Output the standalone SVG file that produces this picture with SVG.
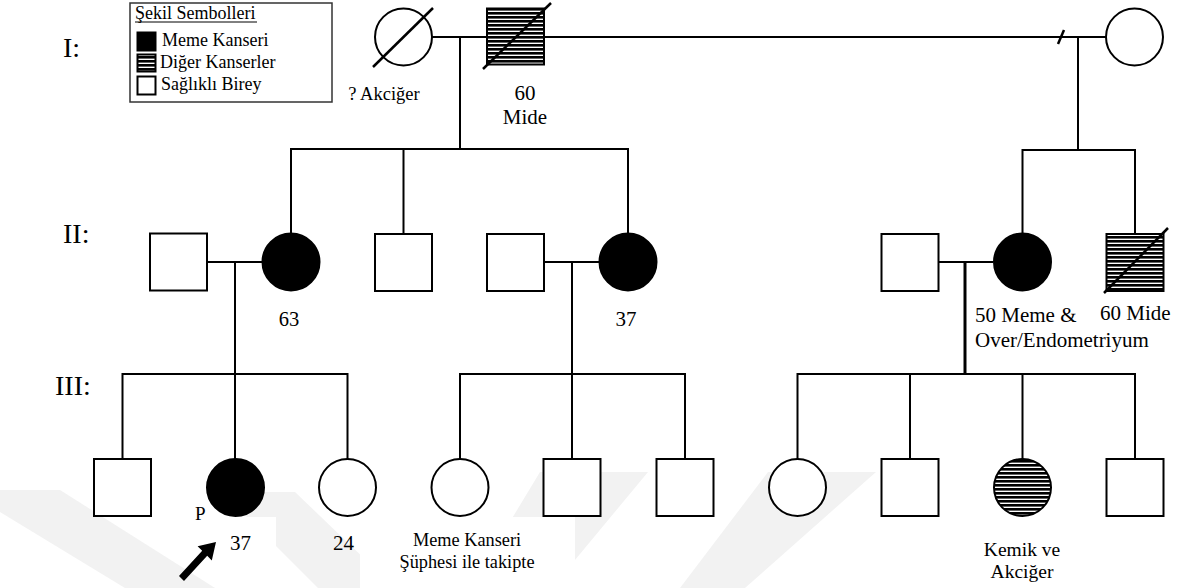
<svg xmlns="http://www.w3.org/2000/svg" width="1184" height="588" viewBox="0 0 1184 588">
<style>
.s{fill:#fff;stroke:#000;stroke-width:2}
.a{fill:#000;stroke:#000;stroke-width:2}
.h{fill:url(#hatch);stroke:#000;stroke-width:2}
.ln{stroke:#000;stroke-width:2;fill:none}
.t{font-family:"Liberation Serif","Times New Roman",serif;fill:#000}
.wm{fill:#f2f2f2}
</style>
<defs>
<pattern id="hatch" patternUnits="userSpaceOnUse" width="8" height="4">
<rect width="8" height="4" fill="#fff"/>
<rect width="8" height="2.6" fill="#000"/>
</pattern>
</defs>
<rect width="1184" height="588" fill="#fff"/>
<g id="watermark">
<polygon class="wm" points="0,490 60,490 215,588 125,588 0,512"/>
<polygon class="wm" points="222,492 295,492 395,588 318,588"/>
<polygon class="wm" points="540,472 648,472 575,560 560,588 470,588"/>
<polygon class="wm" points="768,472 876,472 745,588 680,588"/>
<rect x="176" y="490" width="31" height="30" fill="#fff"/>
<rect x="207" y="517" width="69" height="45" fill="#fff"/>
<rect x="360" y="517" width="215" height="71" fill="#fff"/>
</g>
<g id="legend">
<rect x="130" y="3" width="202" height="99" fill="#fff" stroke="#333" stroke-width="1.5"/>
<text class="t" x="135" y="19" font-size="18">Şekil Sembolleri</text>
<line x1="135" y1="22" x2="257" y2="22" stroke="#000" stroke-width="1"/>
<rect x="137.5" y="32.5" width="18" height="18" class="a"/>
<text class="t" x="162" y="46" font-size="18">Meme Kanseri</text>
<rect x="137.5" y="54.5" width="18" height="17" class="h"/>
<text class="t" x="160" y="68" font-size="18">Diğer Kanserler</text>
<rect x="137.5" y="76.5" width="18" height="18" class="s"/>
<text class="t" x="161" y="90" font-size="18">Sağlıklı Birey</text>
</g>
<g id="generation-labels">
<text class="t" x="63" y="57" font-size="28">I:</text>
<text class="t" x="63" y="243" font-size="28">II:</text>
<text class="t" x="55" y="395" font-size="28">III:</text>
</g>
<g id="connectors">
<line class="ln" x1="432" y1="37" x2="487" y2="37"/>
<line class="ln" x1="544" y1="37" x2="1106" y2="37"/>
<line x1="1058" y1="44" x2="1064" y2="30" stroke="#000" stroke-width="2.5"/>
<line class="ln" x1="460" y1="37" x2="460" y2="149"/>
<polyline class="ln" points="291,233 291,149 628,149 628,233"/>
<line class="ln" x1="403.5" y1="149" x2="403.5" y2="234"/>
<line class="ln" x1="1078" y1="37" x2="1078" y2="150"/>
<polyline class="ln" points="1022.5,233 1022.5,150 1135,150 1135,234"/>
<line class="ln" x1="207" y1="262" x2="262" y2="262"/>
<line class="ln" x1="544" y1="262" x2="599" y2="262"/>
<line class="ln" x1="938" y1="262" x2="993" y2="262"/>
<line class="ln" x1="235" y1="262" x2="235" y2="374"/>
<line class="ln" x1="572" y1="262" x2="572" y2="374"/>
<line x1="965" y1="262" x2="965" y2="374" stroke="#000" stroke-width="3"/>
<polyline class="ln" points="122.5,459 122.5,374 347.5,374 347.5,459"/>
<line class="ln" x1="235" y1="374" x2="235" y2="459"/>
<polyline class="ln" points="460,459 460,374 685,374 685,459"/>
<line class="ln" x1="572" y1="374" x2="572" y2="459"/>
<polyline class="ln" points="797.5,459 797.5,374 1135,374 1135,459"/>
<line class="ln" x1="910" y1="374" x2="910" y2="459"/>
<line class="ln" x1="1022.5" y1="374" x2="1022.5" y2="459"/>
</g>
<g id="I-1">
<circle class="s" cx="403.5" cy="37" r="28.5"/>
<line x1="373" y1="67" x2="433" y2="8" stroke="#000" stroke-width="2.5"/>
<text class="t" x="384" y="100" font-size="18.5" text-anchor="middle">? Akciğer</text>
</g>
<g id="I-2">
<rect class="h" x="487" y="8.5" width="57" height="56"/>
<line x1="483" y1="69" x2="551" y2="3" stroke="#000" stroke-width="2.5"/>
<text class="t" x="525" y="100" font-size="21" text-anchor="middle">60</text>
<text class="t" x="525" y="124" font-size="21" text-anchor="middle">Mide</text>
</g>
<g id="I-3">
<circle class="s" cx="1134.5" cy="37" r="28.5"/>
</g>
<g id="II-1"><rect class="s" x="150" y="233.5" width="57" height="57"/></g>
<g id="II-2">
<circle class="a" cx="291" cy="262" r="28.5"/>
<text class="t" x="289" y="326" font-size="20.5" text-anchor="middle">63</text>
</g>
<g id="II-3"><rect class="s" x="375" y="234" width="57" height="57"/></g>
<g id="II-4"><rect class="s" x="487" y="234" width="57" height="57"/></g>
<g id="II-5">
<circle class="a" cx="628" cy="262" r="28.5"/>
<text class="t" x="626" y="326" font-size="21" text-anchor="middle">37</text>
</g>
<g id="II-6"><rect class="s" x="881.5" y="234" width="57" height="57"/></g>
<g id="II-7">
<circle class="a" cx="1022.5" cy="262" r="28.5"/>
<text class="t" x="975" y="322" font-size="21">50 Meme &amp;</text>
<text class="t" x="975" y="347" font-size="21">Over/Endometriyum</text>
</g>
<g id="II-8">
<rect class="h" x="1106.5" y="234" width="57" height="57"/>
<line x1="1104" y1="293" x2="1168" y2="228" stroke="#000" stroke-width="2.5"/>
<text class="t" x="1100" y="320" font-size="21">60 Mide</text>
</g>
<g id="III-1"><rect class="s" x="94" y="459" width="57" height="57"/></g>
<g id="III-2">
<circle class="a" cx="235.5" cy="487.5" r="28.5"/>
<text class="t" x="195" y="520" font-size="19">P</text>
<text class="t" x="230" y="550" font-size="21">37</text>
<polygon fill="#000" points="184,581 207.2,555.8 211.8,560.4 216,542 197.6,546.2 202.2,550.8 179,576"/>
</g>
<g id="III-3">
<circle class="s" cx="347.5" cy="487.5" r="28.5"/>
<text class="t" x="333" y="550" font-size="21">24</text>
</g>
<g id="III-4">
<circle class="s" cx="460" cy="487.5" r="28.5"/>
<text class="t" x="467" y="546" font-size="18.3" text-anchor="middle">Meme Kanseri</text>
<text class="t" x="467" y="568" font-size="18.3" text-anchor="middle">Şüphesi ile takipte</text>
</g>
<g id="III-5"><rect class="s" x="543.5" y="459" width="57" height="57"/></g>
<g id="III-6"><rect class="s" x="656.5" y="459" width="57" height="57"/></g>
<g id="III-7"><circle class="s" cx="797.5" cy="487.5" r="28.5"/></g>
<g id="III-8"><rect class="s" x="881.5" y="459" width="57" height="57"/></g>
<g id="III-9">
<circle class="h" cx="1022.5" cy="487.5" r="28.5"/>
<text class="t" x="1022" y="556" font-size="19.5" text-anchor="middle">Kemik ve</text>
<text class="t" x="1022" y="578" font-size="19.5" text-anchor="middle">Akciğer</text>
</g>
<g id="III-10"><rect class="s" x="1106.5" y="459" width="57" height="57"/></g>
</svg>
